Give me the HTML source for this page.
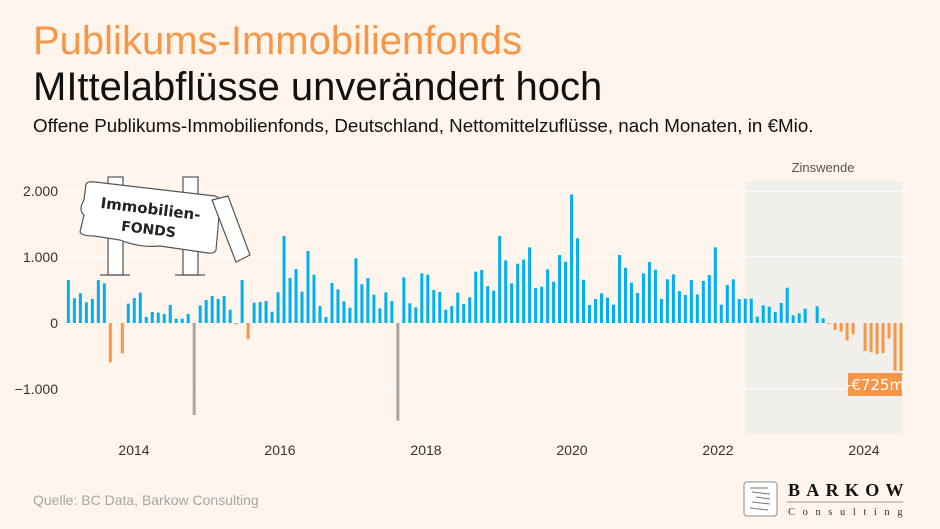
<!DOCTYPE html>
<html><head><meta charset="utf-8">
<style>
html,body{margin:0;padding:0;}
body{width:940px;height:529px;background:#fff5ec;position:relative;overflow:hidden;font-family:"Liberation Sans",sans-serif;}
.t1{position:absolute;left:33px;top:19px;font-size:40px;color:#f79646;}
.t2{position:absolute;left:33px;top:65px;font-size:40px;color:#111;}
.t3{position:absolute;left:33px;top:115px;font-size:18.8px;color:#111;}
.src{position:absolute;left:33px;top:492px;font-size:14px;color:#a6a6a6;}
svg{position:absolute;left:0;top:0;}
</style></head><body>
<div class="t1">Publikums-Immobilienfonds</div>
<div class="t2">MIttelabflüsse unverändert hoch</div>
<div class="t3">Offene Publikums-Immobilienfonds, Deutschland, Nettomittelzuflüsse, nach Monaten, in €Mio.</div>
<div class="src">Quelle: BC Data, Barkow Consulting</div>
<svg id="c" width="940" height="529" xmlns="http://www.w3.org/2000/svg">
<rect x="746" y="181" width="156" height="253" fill="#f0efeb"/>
<text x="823" y="172" font-size="13" fill="#555" text-anchor="middle" font-family="Liberation Sans, sans-serif">Zinswende</text>
<g stroke="#ffffff" stroke-width="1">
<line x1="60" y1="191" x2="905" y2="191"/><line x1="60" y1="257" x2="905" y2="257"/><line x1="60" y1="389" x2="905" y2="389"/>
</g>
<g font-size="14" fill="#333" font-family="Liberation Sans, sans-serif" text-anchor="end">
<text x="58" y="196">2.000</text><text x="58" y="262">1.000</text><text x="58" y="328">0</text><text x="58" y="394">−1.000</text>
</g>
<g font-size="14" fill="#333" font-family="Liberation Sans, sans-serif" text-anchor="middle">
<text x="134" y="455">2014</text><text x="280" y="455">2016</text><text x="426" y="455">2018</text><text x="572" y="455">2020</text><text x="718" y="455">2022</text><text x="864" y="455">2024</text>
</g>
<g id="bars"></g>
<rect x="848" y="373" width="54" height="23" fill="#f79646"/>
<text x="875" y="390" font-size="15" fill="#fff" text-anchor="middle" font-family="DejaVu Sans, sans-serif">-€725m</text>
<g stroke="#555" stroke-width="1.2" fill="#fff">
<rect x="108" y="177" width="15" height="98"/><rect x="183" y="177" width="15" height="98"/>
<line x1="100" y1="275" x2="130" y2="275"/><line x1="175" y1="275" x2="205" y2="275"/>
<path d="M86 184 Q88 181 95 182 L215 196 Q222 198 220 205 L216 250 Q214 254 208 253 L160 246 Q140 248 120 240 L94 236 Q82 236 80 232 L84 215 Q78 210 84 200 Z"/>
<path d="M212 200 L228 196 L250 255 L236 262 Z"/>
</g>
<text x="150" y="214" font-size="15" font-weight="bold" fill="#222" text-anchor="middle" transform="rotate(7 150 214)" font-family="DejaVu Sans, sans-serif">Immobilien-</text>
<text x="148" y="234" font-size="14" font-weight="bold" fill="#222" text-anchor="middle" transform="rotate(7 148 234)" font-family="DejaVu Sans, sans-serif">FONDS</text>
<rect x="744" y="482" width="33" height="34" rx="3" fill="#fff" stroke="#888"/>
<g stroke="#777" stroke-width="1"><line x1="750" y1="488" x2="768" y2="488"/><line x1="752" y1="492" x2="770" y2="494"/><line x1="756" y1="497" x2="770" y2="499"/><line x1="752" y1="502" x2="770" y2="504"/><line x1="750" y1="508" x2="768" y2="510"/></g>
<text x="788" y="496" font-size="18" font-family="Liberation Serif, serif" font-weight="bold" fill="#111" letter-spacing="6.3">BARKOW</text>
<line x1="787" y1="502" x2="903" y2="502" stroke="#999"/>
<text x="788" y="515" font-size="10.5" font-family="Liberation Serif, serif" fill="#333" letter-spacing="7.6">Consulting</text>
</svg>
<script>
var d=[650,375,450,313,364,650,600,-596,0,-460,293,379,460,91,167,157,136,273,66,66,136,-1394,268,348,409,364,409,202,-20,650,-247,308,318,333,172,465,1318,682,818,475,1091,732,258,91,606,510,328,232,980,586,682,429,222,465,333,-1480,692,298,237,752,732,500,470,202,258,460,288,389,778,
803,560,490,1318,949,601,899,960,1146,530,550,813,626,1030,929,1949,1283,656,273,364,450,384,278,1030,838,611,455,752,924,808,364,662,737,485,424,651,434,636,727,1146,278,576,662,364,369,369,96,268,247,167,303,535,116,146,217,0,252,71,-15,-106,-131,-268,-172,0,-424,-444,-470,-455,-232,-722,-725];
var g=document.getElementById('bars'),s='';
for(var k=0;k<d.length;k++){var v=d[k];if(!v)continue;var x=68.4+5.99*k-1.5;var h=Math.abs(v)*0.066;var y=v>0?323-h:323;
var c=v>0?'#00b0f0':(v<-1000?'#a6a6a6':'#f79646');s+='<rect x="'+x.toFixed(2)+'" y="'+y.toFixed(2)+'" width="3" height="'+h.toFixed(2)+'" fill="'+c+'"/>';}
g.innerHTML=s;
</script>
</body></html>
